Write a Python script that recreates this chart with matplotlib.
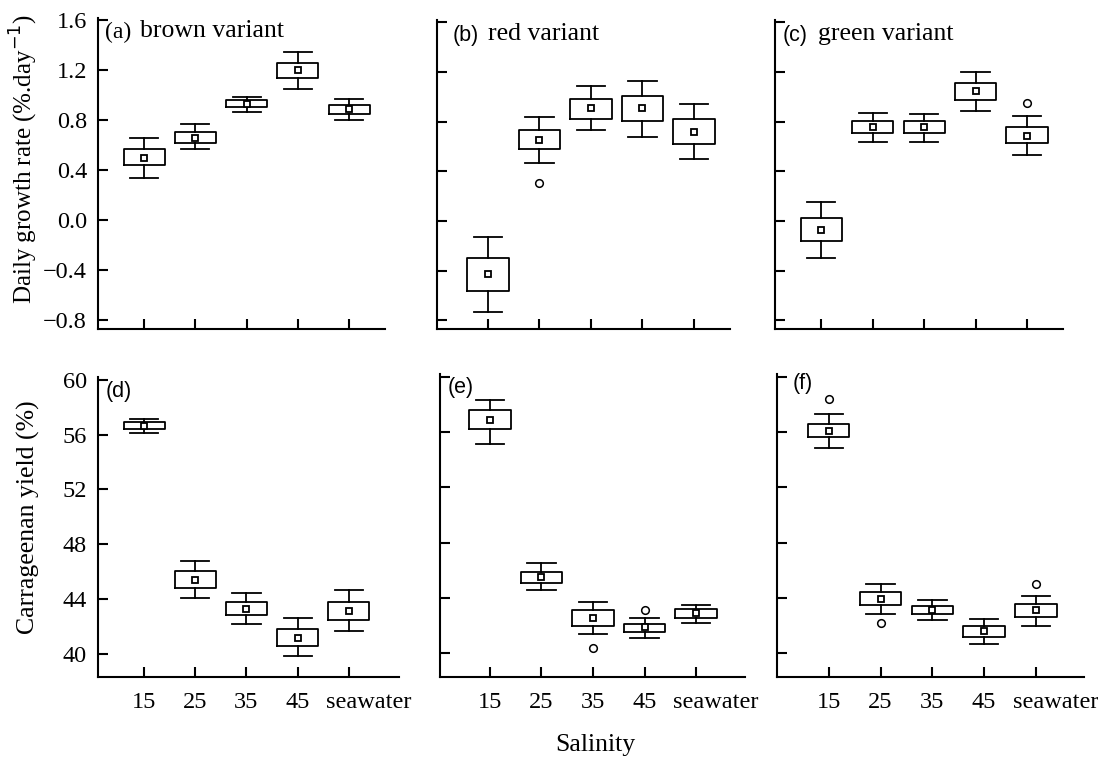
import numpy as np
import matplotlib.pyplot as plt
from matplotlib.transforms import ScaledTranslation

plt.rcParams['font.family'] = 'Liberation Serif'
plt.rcParams['axes.unicode_minus'] = True

# ----- Data ----- #
salinity = ["15", "25", "35", "45", "seawater"]
panel_tags = ["(a)", "(b)", "(c)", "(d)", "(e)", "(f)"]
variant_names = ["brown variant", "red variant", "green variant", "", "", ""]

# rows: lower whisker, box bottom, mean, box top, upper whisker
growth_brown = [[0.34, 0.57, 0.87, 1.05, 0.805],
                [0.44, 0.62, 0.905, 1.14, 0.855],
                [0.50, 0.66, 0.93, 1.20, 0.89],
                [0.57, 0.71, 0.96, 1.26, 0.92],
                [0.66, 0.77, 0.99, 1.35, 0.97]]
growth_red = [[-0.735, 0.465, 0.735, 0.68, 0.50],
              [-0.56, 0.58, 0.82, 0.81, 0.62],
              [-0.43, 0.65, 0.91, 0.91, 0.72],
              [-0.30, 0.735, 0.98, 1.01, 0.82],
              [-0.126, 0.84, 1.087, 1.13, 0.945]]
growth_green = [[-0.30, 0.64, 0.64, 0.884, 0.535],
                [-0.16, 0.71, 0.71, 0.976, 0.63],
                [-0.07, 0.755, 0.755, 1.05, 0.687],
                [0.024, 0.805, 0.805, 1.11, 0.756],
                [0.15, 0.874, 0.863, 1.197, 0.847]]
growth_brown_out = [[], [], [], [], []]
growth_red_out = [[], [0.31], [], [], []]
growth_green_out = [[], [], [], [], [0.955]]

# carrageenan yield (%)
yield_brown = [[56.13, 44.08, 42.15, 39.8, 41.64],
               [56.38, 44.8, 42.8, 40.53, 42.46],
               [56.64, 45.38, 43.26, 41.18, 43.14],
               [56.9, 46.04, 43.79, 41.78, 43.79],
               [57.17, 46.76, 44.42, 42.6, 44.66]]
yield_red = [[55.12, 44.59, 41.38, 41.14, 42.22],
             [56.2, 45.12, 41.98, 41.55, 42.54],
             [56.9, 45.56, 42.59, 41.93, 42.9],
             [57.57, 45.92, 43.14, 42.12, 43.19],
             [58.33, 46.52, 43.75, 42.59, 43.5]]
yield_green = [[54.86, 42.85, 42.44, 40.72, 42.0],
               [55.63, 43.5, 42.85, 41.21, 42.63],
               [56.09, 43.94, 43.14, 41.59, 43.14],
               [56.62, 44.42, 43.43, 42.0, 43.55],
               [57.34, 45.05, 43.84, 42.46, 44.18]]
yield_brown_out = [[], [], [], [], []]
yield_red_out = [[], [], [40.43], [43.14], []]
yield_green_out = [[58.4], [42.22], [], [], [45.02]]

growth_ticks = [-0.8, -0.4, 0.0, 0.4, 0.8, 1.2, 1.6]
yield_ticks = [40, 44, 48, 52, 56, 60]


def make_stats(rows, outliers):
    stats = []
    for i in range(len(salinity)):
        lo, q1, mean, q3, hi = (r[i] for r in rows)
        stats.append(dict(whislo=lo, q1=q1, med=mean, mean=mean, q3=q3,
                          whishi=hi, fliers=outliers[i]))
    return stats


panels = [(growth_brown, growth_brown_out), (growth_red, growth_red_out),
          (growth_green, growth_green_out), (yield_brown, yield_brown_out),
          (yield_red, yield_red_out), (yield_green, yield_green_out)]

# ----- Layout (pixels) ----- #
W, H = 1098, 757
boxes_px = [(98, 18, 385, 329), (437, 20, 730, 329), (775, 20, 1063, 329),
            (98, 377, 399, 677), (440, 374, 745, 677), (777, 374, 1084, 677)]
xlims = [(0.1, 5.7), (0.01, 5.7), (0.1, 5.7), (0.1, 5.98), (0.03, 5.95), (0.0, 5.93)]
tag_px = [(105, 32), (453, 35), (783, 35), (106, 392), (448, 387), (793, 383)]

fig = plt.figure(figsize=(W / 100, H / 100), dpi=100)
pos = np.arange(1, len(salinity) + 1)
lw = 1.3

for k, (rows, outs) in enumerate(panels):
    l, t, r, b = boxes_px[k]
    ax = fig.add_axes([l / W, 1 - b / H, (r - l) / W, (b - t) / H])
    ax.bxp(make_stats(rows, outs), positions=pos, widths=0.8, capwidths=0.55,
           showmeans=True, showfliers=True,
           boxprops=dict(color='black', linewidth=lw),
           whiskerprops=dict(color='black', linewidth=lw),
           capprops=dict(color='black', linewidth=lw),
           medianprops=dict(visible=False),
           meanprops=dict(marker='s', markersize=5, markerfacecolor='white',
                          markeredgecolor='black', markeredgewidth=1.3),
           flierprops=dict(marker='o', markersize=5.5, markerfacecolor='white',
                           markeredgecolor='black', markeredgewidth=1.1))
    ax.set_xlim(*xlims[k])
    if k < 3:
        ax.set_ylim(-0.87, 1.62)
        ax.set_yticks(growth_ticks)
        ax.set_yticklabels([f"{v:.1f}".replace("-", "\u2212") for v in growth_ticks])
    else:
        ax.set_ylim(38.3, 60.2)
        ax.set_yticks(yield_ticks)
    ax.set_xticks(pos)
    ax.set_xticklabels(salinity)
    for s in ['top', 'right']:
        ax.spines[s].set_visible(False)
    for s in ['left', 'bottom']:
        ax.spines[s].set_linewidth(1.5)
    ax.tick_params(direction='in', length=7, width=1.5, labelsize=17.5)
    ax.tick_params(axis='y', pad=8)
    ax.tick_params(axis='x', pad=11)
    # "seawater" label sits a little right of its tick
    ax.get_xticklabels()[-1].set_transform(
        ax.get_xticklabels()[-1].get_transform() + ScaledTranslation(0.2, 0, fig.dpi_scale_trans))
    if k < 3:
        ax.tick_params(labelbottom=False)
    if k % 3 != 0:
        ax.tick_params(labelleft=False)

    tx, ty = tag_px[k]
    if k == 0:
        fig.text(tx / W, 1 - ty / H, panel_tags[k], fontsize=17,
                 va='center', ha='left')
    else:
        fig.text(tx / W, 1 - ty / H, panel_tags[k], fontsize=15.5,
                 family='Liberation Sans', va='center', ha='left')
    if variant_names[k]:
        fig.text((tx + 35) / W, 1 - (ty - 1) / H, variant_names[k],
                 fontsize=18.5, va='center', ha='left')

fig.text(24 / W, 1 - 159 / H, "Daily growth rate (%.day$^{-1}$)", rotation=90,
         fontsize=18, ha='center', va='center')
fig.text(28 / W, 1 - 517 / H, "Carrageenan yield (%)", rotation=90,
         fontsize=18.5, ha='center', va='center')
fig.text(595 / W, 1 - 745 / H, "Salinity", fontsize=18.5, ha='center', va='center')

fig.savefig("out.png", dpi=100)
